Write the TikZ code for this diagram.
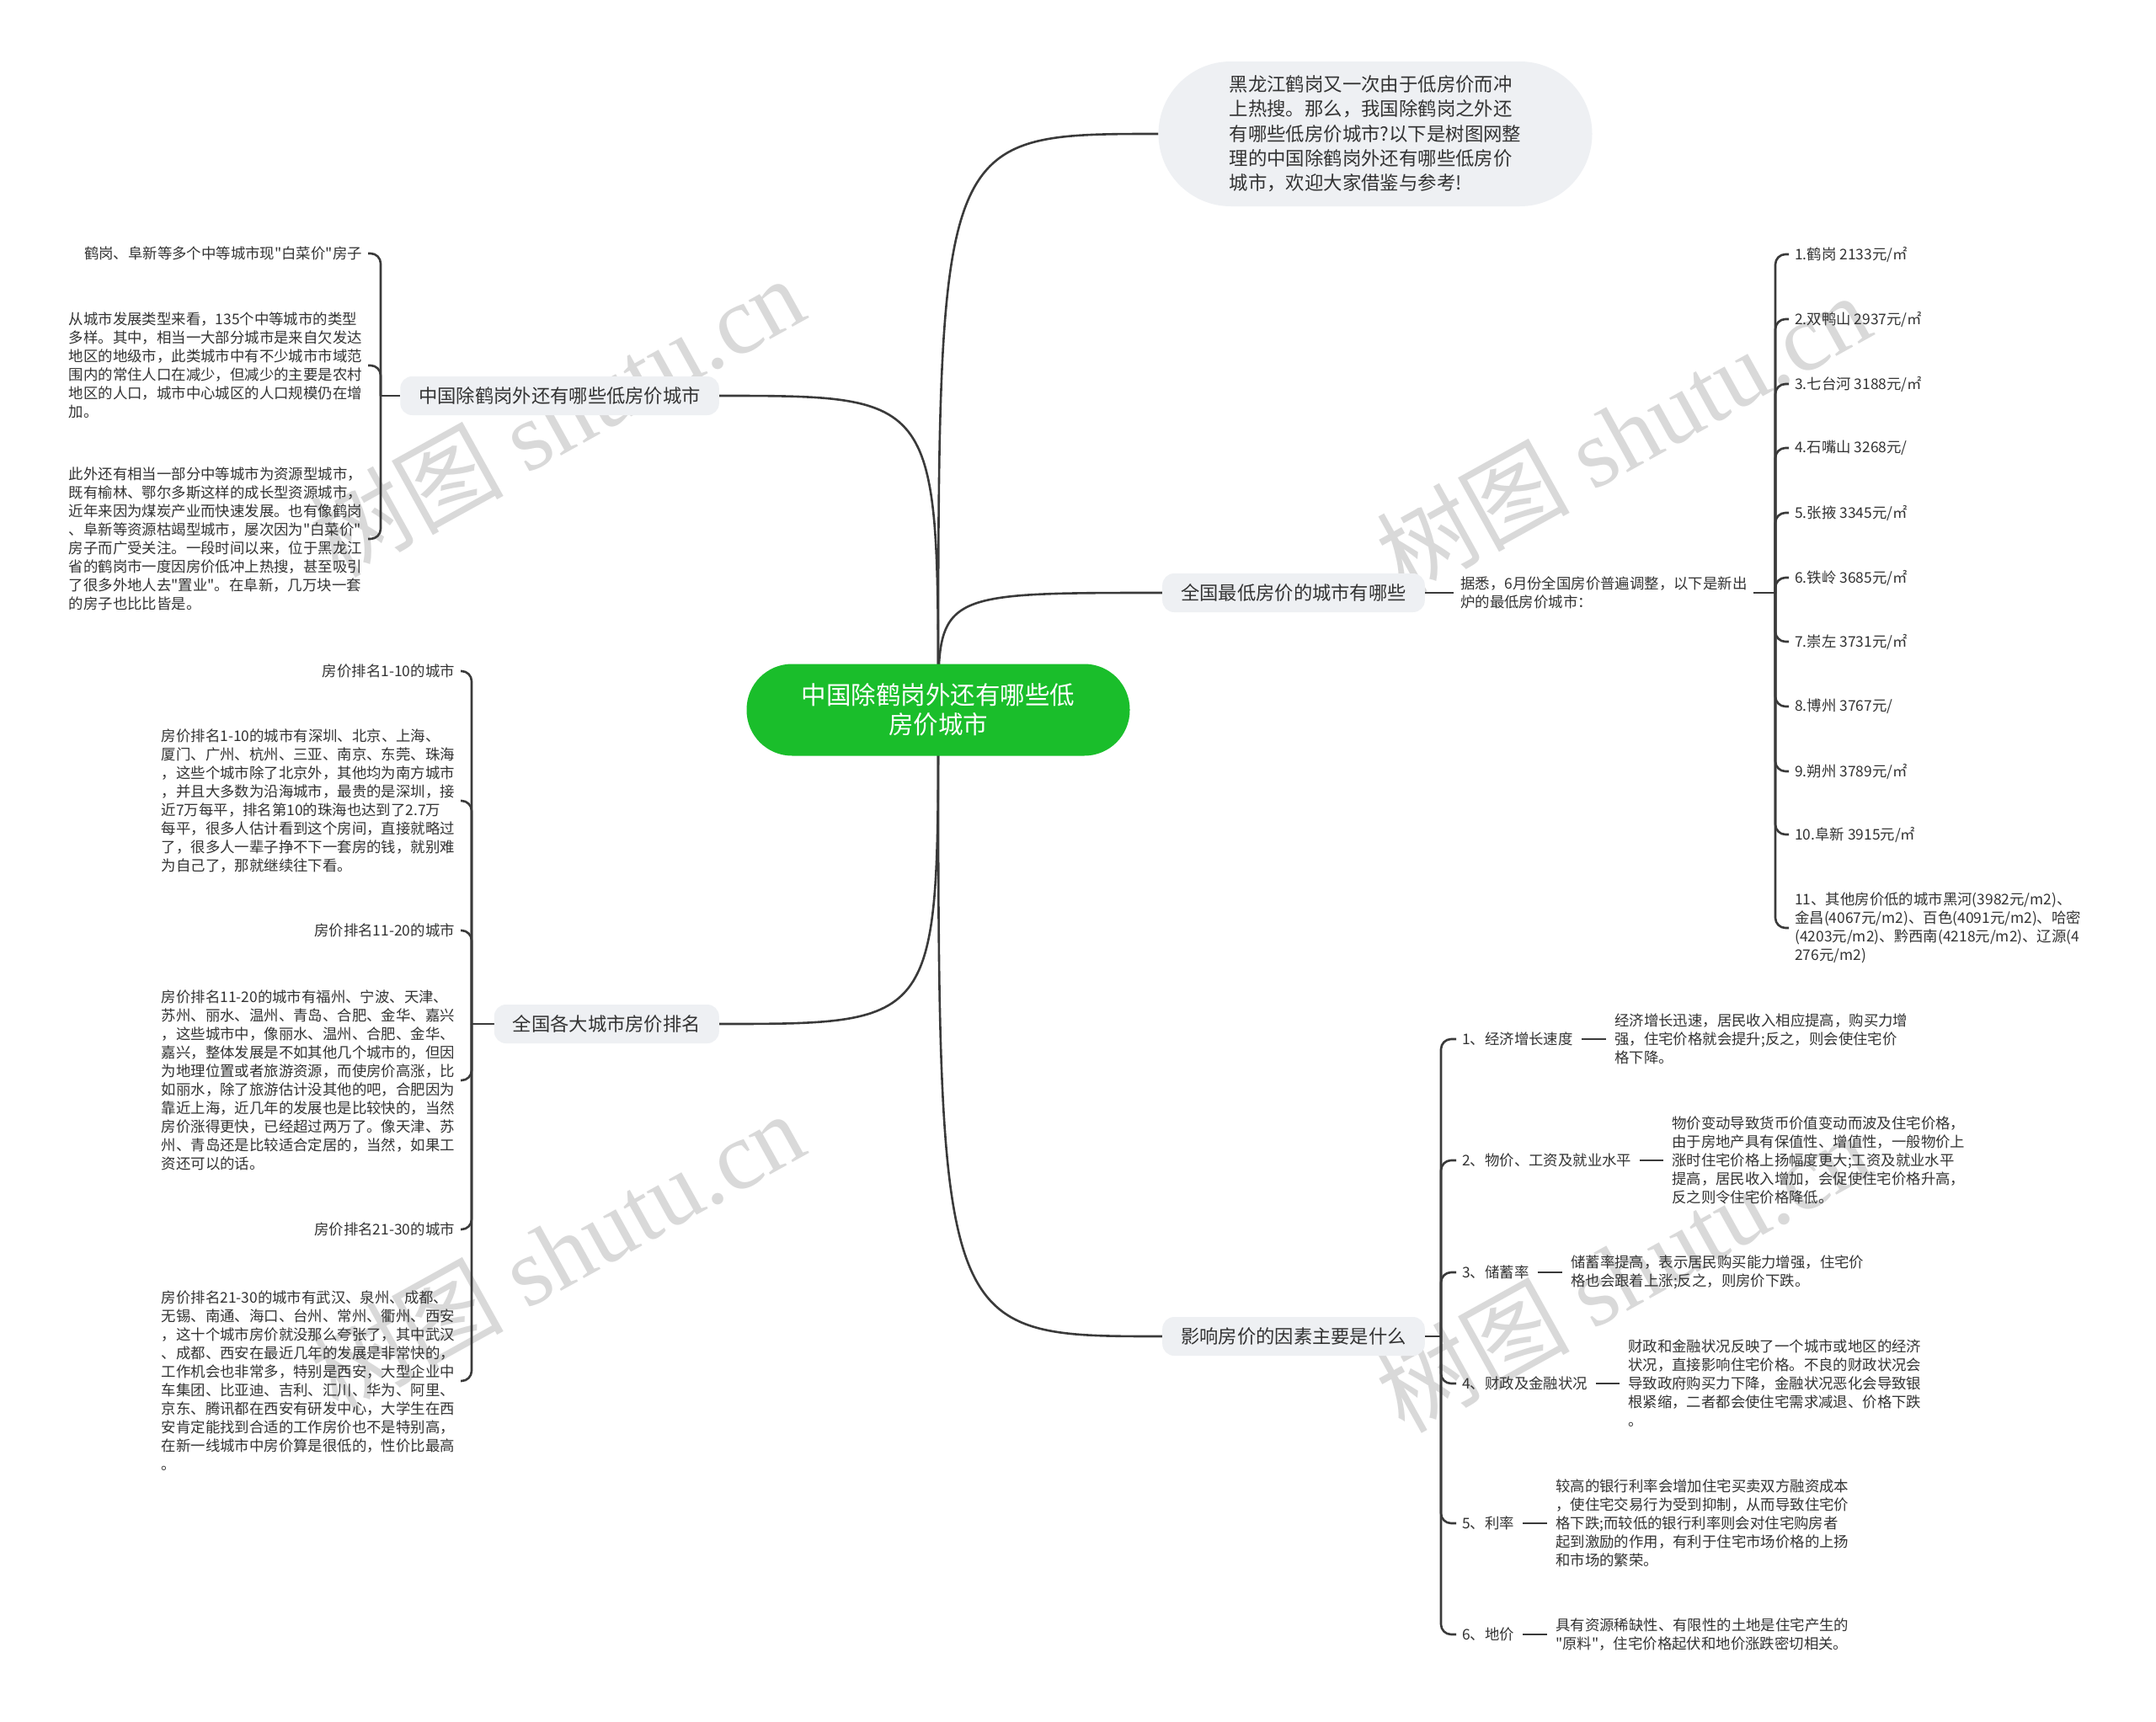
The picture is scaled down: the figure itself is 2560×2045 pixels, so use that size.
\documentclass[tikz,border=0pt]{standalone}
\usepackage{fontspec}
\defaultfontfeatures{}
\defaultfontfeatures[\rmfamily,\sffamily]{}
\setmainfont{Noto Sans CJK SC}
\newfontfamily\wmlatin{Liberation Serif}
\usetikzlibrary{calc}
\definecolor{ink}{HTML}{333333}
\definecolor{lineclr}{HTML}{3A3A3A}
\definecolor{boxfill}{HTML}{EEF0F3}
\definecolor{rootgreen}{HTML}{1ABE2B}
\definecolor{wmclr}{HTML}{D9D9D9}
\pgfdeclarelayer{wmlayer}
\pgfdeclarelayer{bglayer}
\pgfsetlayers{wmlayer,bglayer,main}
\begin{document}
\begin{tikzpicture}[x=1pt,y=-1pt,
  conn/.style={draw=lineclr,line width=2.6pt},
  brk/.style={conn,rounded corners=12pt,shorten >=7pt},
  rootbox/.style={fill=rootgreen,text=white,rounded corners=54pt,minimum width=455pt,minimum height=109pt,align=center,font=\fontsize{29.5pt}{35pt}\selectfont,inner sep=0pt},
  bubble/.style={fill=boxfill,text=ink,rounded corners=86pt,minimum width=515pt,minimum height=172pt,align=left,font=\fontsize{22.4pt}{29.3pt}\selectfont,inner sep=0pt},
  branchbox/.style={fill=boxfill,text=ink,rounded corners=14pt,minimum height=46pt,inner xsep=22pt,inner ysep=0pt,font=\fontsize{22.3pt}{27pt}\selectfont},
  small/.style={text=ink,inner sep=0pt,align=left,font=\fontsize{17.4pt}{22pt}\selectfont},
  wmark/.style={text=wmclr,rotate=29,font=\fontsize{115pt}{120pt}\selectfont,inner sep=0pt}
]
\useasboundingbox (0,0) rectangle (2560,2045);
\begin{pgfonlayer}{wmlayer}
\fill[white] (0,0) rectangle (2560,2045);
\node[wmark] (wm1) at (661,494) {树图 {\wmlatin shutu.cn}};
\node[wmark] (wm2) at (1927,514) {树图 {\wmlatin shutu.cn}};
\node[wmark] (wm3) at (661,1486) {树图 {\wmlatin shutu.cn}};
\node[wmark] (wm4) at (1927,1510) {树图 {\wmlatin shutu.cn}};
\end{pgfonlayer}

% root and main branches
\node[rootbox] (root) at (1114,843) {中国除鹤岗外还有哪些低\\房价城市};
\node[bubble] (intro) at (1633,159) {黑龙江鹤岗又一次由于低房价而冲\\上热搜。那么，我国除鹤岗之外还\\有哪些低房价城市?以下是树图网整\\理的中国除鹤岗外还有哪些低房价\\城市，欢迎大家借鉴与参考!};
\node[branchbox,anchor=west] (rb1) at (1380,704) {全国最低房价的城市有哪些};
\node[branchbox,anchor=west] (rb2) at (1380,1587) {影响房价的因素主要是什么};
\node[branchbox,anchor=east] (lb1) at (854,470) {中国除鹤岗外还有哪些低房价城市};
\node[branchbox,anchor=east] (lb2) at (854,1216) {全国各大城市房价排名};

% right branch 1
\node[small,anchor=west] (ju) at (1734,704) {据悉，6月份全国房价普遍调整，以下是新出\\炉的最低房价城市：};
\coordinate (bj) at (2108,704);
\node[small,anchor=west] (r1) at (2131,302) {1.鹤岗 2133元/㎡};
\node[small,anchor=west] (r2) at (2131,379) {2.双鸭山 2937元/㎡};
\node[small,anchor=west] (r3) at (2131,456) {3.七台河 3188元/㎡};
\node[small,anchor=west] (r4) at (2131,532) {4.石嘴山 3268元/};
\node[small,anchor=west] (r5) at (2131,609) {5.张掖 3345元/㎡};
\node[small,anchor=west] (r6) at (2131,686) {6.铁岭 3685元/㎡};
\node[small,anchor=west] (r7) at (2131,762) {7.崇左 3731元/㎡};
\node[small,anchor=west] (r8) at (2131,839) {8.博州 3767元/};
\node[small,anchor=west] (r9) at (2131,916) {9.朔州 3789元/㎡};
\node[small,anchor=west] (r10) at (2131,991) {10.阜新 3915元/㎡};
\node[small,anchor=west] (r11) at (2131,1102) {11、其他房价低的城市黑河(3982元/m2)、\\金昌(4067元/m2)、百色(4091元/m2)、哈密\\(4203元/m2)、黔西南(4218元/m2)、辽源(4\\276元/m2)};

% right branch 2
\coordinate (bf) at (1711,1587);
\node[small,anchor=west] (f1) at (1736,1234) {1、经济增长速度};
\node[small,anchor=west] (f2) at (1736,1378) {2、物价、工资及就业水平};
\node[small,anchor=west] (f3) at (1736,1511) {3、储蓄率};
\node[small,anchor=west] (f4) at (1736,1643) {4、财政及金融状况};
\node[small,anchor=west] (f5) at (1736,1809) {5、利率};
\node[small,anchor=west] (f6) at (1736,1941) {6、地价};
\node[small,anchor=west] (d1) at (1917,1234) {经济增长迅速，居民收入相应提高，购买力增\\强，住宅价格就会提升;反之，则会使住宅价\\格下降。};
\node[small,anchor=west] (d2) at (1985,1378) {物价变动导致货币价值变动而波及住宅价格，\\由于房地产具有保值性、增值性，一般物价上\\涨时住宅价格上扬幅度更大;工资及就业水平\\提高，居民收入增加，会促使住宅价格升高，\\反之则令住宅价格降低。};
\node[small,anchor=west] (d3) at (1865,1511) {储蓄率提高，表示居民购买能力增强，住宅价\\格也会跟着上涨;反之，则房价下跌。};
\node[small,anchor=west] (d4) at (1933,1643) {财政和金融状况反映了一个城市或地区的经济\\状况，直接影响住宅价格。不良的财政状况会\\导致政府购买力下降，金融状况恶化会导致银\\根紧缩，二者都会使住宅需求减退、价格下跌\\。};
\node[small,anchor=west] (d5) at (1847,1809) {较高的银行利率会增加住宅买卖双方融资成本\\，使住宅交易行为受到抑制，从而导致住宅价\\格下跌;而较低的银行利率则会对住宅购房者\\起到激励的作用，有利于住宅市场价格的上扬\\和市场的繁荣。};
\node[small,anchor=west] (d6) at (1847,1941) {具有资源稀缺性、有限性的土地是住宅产生的\\"原料"，住宅价格起伏和地价涨跌密切相关。};

% left branch 1
\coordinate (bl1) at (452,470);
\node[small,anchor=east] (l1a) at (430,301) {鹤岗、阜新等多个中等城市现"白菜价"房子};
\node[small,anchor=east] (l1b) at (430,434) {从城市发展类型来看，135个中等城市的类型\\多样。其中，相当一大部分城市是来自欠发达\\地区的地级市，此类城市中有不少城市市域范\\围内的常住人口在减少，但减少的主要是农村\\地区的人口，城市中心城区的人口规模仍在增\\加。};
\node[small,anchor=east] (l1c) at (430,640) {此外还有相当一部分中等城市为资源型城市，\\既有榆林、鄂尔多斯这样的成长型资源城市，\\近年来因为煤炭产业而快速发展。也有像鹤岗\\、阜新等资源枯竭型城市，屡次因为"白菜价"\\房子而广受关注。一段时间以来，位于黑龙江\\省的鹤岗市一度因房价低冲上热搜，甚至吸引\\了很多外地人去"置业"。在阜新，几万块一套\\的房子也比比皆是。};

% left branch 2
\coordinate (bl2) at (560,1216);
\node[small,anchor=east] (l2a) at (540,797) {房价排名1-10的城市};
\node[small,anchor=east] (l2b) at (540,951) {房价排名1-10的城市有深圳、北京、上海、\\厦门、广州、杭州、三亚、南京、东莞、珠海\\，这些个城市除了北京外，其他均为南方城市\\，并且大多数为沿海城市，最贵的是深圳，接\\近7万每平，排名第10的珠海也达到了2.7万\\每平，很多人估计看到这个房间，直接就略过\\了，很多人一辈子挣不下一套房的钱，就别难\\为自己了，那就继续往下看。};
\node[small,anchor=east] (l2c) at (540,1105) {房价排名11-20的城市};
\node[small,anchor=east] (l2d) at (540,1283) {房价排名11-20的城市有福州、宁波、天津、\\苏州、丽水、温州、青岛、合肥、金华、嘉兴\\，这些城市中，像丽水、温州、合肥、金华、\\嘉兴，整体发展是不如其他几个城市的，但因\\为地理位置或者旅游资源，而使房价高涨，比\\如丽水，除了旅游估计没其他的吧，合肥因为\\靠近上海，近几年的发展也是比较快的，当然\\房价涨得更快，已经超过两万了。像天津、苏\\州、青岛还是比较适合定居的，当然，如果工\\资还可以的话。};
\node[small,anchor=east] (l2e) at (540,1460) {房价排名21-30的城市};
\node[small,anchor=east] (l2f) at (540,1640) {房价排名21-30的城市有武汉、泉州、成都、\\无锡、南通、海口、台州、常州、衢州、西安\\，这十个城市房价就没那么夸张了，其中武汉\\、成都、西安在最近几年的发展是非常快的，\\工作机会也非常多，特别是西安，大型企业中\\车集团、比亚迪、吉利、汇川、华为、阿里、\\京东、腾讯都在西安有研发中心，大学生在西\\安肯定能找到合适的工作房价也不是特别高，\\在新一线城市中房价算是很低的，性价比最高\\。};

\begin{pgfonlayer}{bglayer}
% root curves
\draw[conn] (root.center) .. controls (root.center |- intro.west) .. (intro.west);
\draw[conn] (root.center) .. controls (root.center |- rb1.west) .. (rb1.west);
\draw[conn] (root.center) .. controls (root.center |- rb2.west) .. (rb2.west);
\draw[conn] (root.center) .. controls (root.center |- lb1.east) .. (lb1.east);
\draw[conn] (root.center) .. controls (root.center |- lb2.east) .. (lb2.east);
% right 1
\draw[conn,shorten >=8pt] (rb1.east) -- (ju.west);
\draw[conn] ([xshift=7pt]ju.east) -- (bj);
\foreach \c in {r1,r2,r3,r4,r5,r6,r7,r8,r9,r10,r11}
  \draw[brk] (bj) |- (\c.west);
% right 2
\draw[conn] (rb2.east) -- (bf);
\foreach \c in {f1,f2,f3,f4,f5,f6}
  \draw[brk] (bf) |- (\c.west);
\foreach \f/\d in {f1/d1,f2/d2,f3/d3,f4/d4,f5/d5,f6/d6}
  \draw[conn] ([xshift=10pt]\f.east) -- ($(\d.west |- \f.east)+(-10pt,0)$);
% left 1
\draw[conn] (lb1.west) -- (bl1);
\foreach \c in {l1a,l1b,l1c}
  \draw[brk] (bl1) |- (\c.east);
% left 2
\draw[conn] (lb2.west) -- (bl2);
\foreach \c in {l2a,l2b,l2c,l2d,l2e,l2f}
  \draw[brk] (bl2) |- (\c.east);
\end{pgfonlayer}
\end{tikzpicture}
\end{document}
